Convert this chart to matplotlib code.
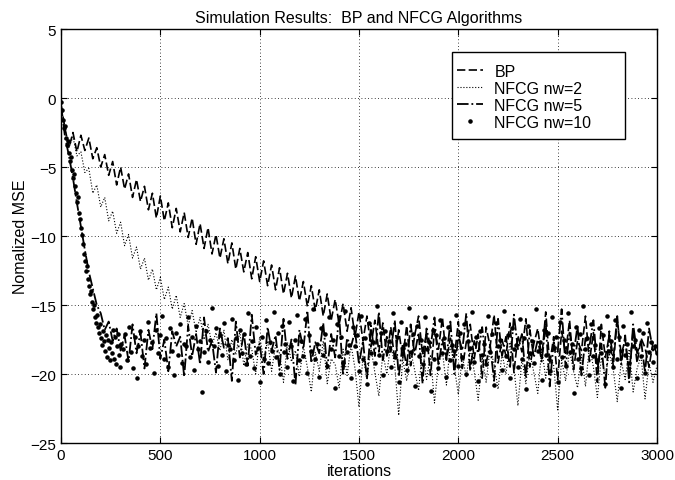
import numpy as np
import matplotlib
matplotlib.use("Agg")
import matplotlib.pyplot as plt
from matplotlib.patches import Rectangle

bp_mse = [-0.5, -2.2, -3.6, -2.5, -3.9, -2.7, -3.8, -2.9, -4.4, -3.6,
          -5.0, -4.1, -5.6, -4.6, -6.3, -5.0, -6.6, -5.5, -7.2, -5.9,
          -7.5, -6.4, -8.1, -6.9, -8.7, -7.1, -8.9, -7.6, -9.4, -8.0,
          -9.7, -8.3, -10.1, -8.7, -10.6, -9.1, -10.9, -9.4, -11.3, -9.9,
          -11.6, -10.2, -12.0, -10.5, -12.4, -10.9, -12.6, -11.2, -13.1, -11.5,
          -13.3, -11.8, -13.6, -12.1, -13.9, -12.3, -14.2, -12.7, -14.5, -12.9,
          -14.7, -13.3, -15.1, -13.6, -15.4, -13.9, -15.8, -14.2, -16.1, -14.6,
          -16.4, -14.9, -16.9, -15.2, -17.3, -15.5, -17.6, -15.8, -18.0, -16.1,
          -18.4, -16.3, -18.7, -16.6, -19.0, -16.8,
          -18.9, -16.5, -19.4, -17.2, -15.8, -18.6, -17.0, -20.1, -16.8, -18.2,
          -15.9, -19.0, -17.4, -18.8, -16.2, -19.6, -17.7, -16.4, -18.9, -17.1,
          -20.3, -16.6, -18.0, -15.7, -19.2, -17.5, -18.7, -16.3, -19.9, -17.2,
          -18.4, -16.0, -19.5, -17.8, -16.7, -18.9, -15.5, -19.3, -17.3, -20.4,
          -16.9, -18.5, -16.1, -19.7, -17.6, -18.3, -15.8, -19.1, -17.0, -20.6,
          -16.4, -18.8, -17.2, -19.4, -16.0, -18.6, -17.5, -20.0, -16.8, -19.2,
          -17.4, -18.1, -19.5, -17.7, -18.6]

nw2_mse = [-0.8, -2.3, -3.6, -2.8, -4.2, -3.9, -5.4, -5.1, -6.9, -6.3,
           -7.9, -7.2, -8.9, -8.2, -9.8, -9.0, -10.7, -9.9, -11.6, -10.8,
           -12.4, -11.6, -13.2, -12.4, -13.9, -13.0, -14.6, -13.7, -15.3, -14.3,
           -15.9, -14.9, -16.5, -15.4, -17.0, -15.9, -17.5, -16.4, -17.9,
           -17.0, -18.3, -16.8, -19.0, -17.5, -18.6, -16.9, -19.4, -17.8, -18.2,
           -20.0, -17.3, -18.9, -17.6, -19.8, -17.9, -18.5, -20.6, -17.7, -19.1,
           -18.3,
           -20.2, -18.0, -19.5, -21.3, -18.4, -19.8, -17.6, -20.7, -18.9, -19.3,
           -21.0, -18.2, -20.1, -17.9, -19.6, -22.4, -18.7, -20.3, -18.1, -19.9,
           -21.6, -18.5, -20.0, -17.8, -19.4, -23.0, -18.9, -20.5, -18.3, -19.7,
           -21.2, -18.0, -20.4, -18.6, -22.1, -19.2, -18.4, -20.8, -17.9, -19.5,
           -21.5, -18.7, -20.2, -18.2, -19.8, -21.9, -18.8, -20.6, -18.1, -19.3,
           -21.1, -18.5, -20.0, -17.7, -19.6, -22.3, -18.9, -20.7, -18.4, -19.9,
           -21.4, -18.2, -20.3, -18.6, -19.4, -22.6, -19.0, -20.5, -18.3, -19.8,
           -21.0, -18.6, -20.9, -18.0, -19.5, -21.7, -18.8, -20.1, -18.5, -19.7,
           -22.0, -19.1, -20.4, -18.2, -21.3, -19.6, -18.7, -21.8, -19.2, -20.6,
           -19.4]

nw5_mse = [-0.5, -2.8, -4.2, -5.8, -7.6, -9.3, -11.0, -12.6, -13.8, -15.0,
           -15.6, -16.8, -16.2, -17.6, -16.7, -18.3,
           -17.2, -19.1, -16.4, -18.5, -17.0, -19.6, -16.8, -18.2, -15.6, -18.9,
           -17.5, -19.8, -16.9, -18.0, -17.3, -20.2, -16.5, -18.7, -17.1, -19.3,
           -15.9, -18.4, -17.6, -19.9, -16.7, -18.1, -17.4, -20.5, -16.2, -18.8,
           -17.0, -19.4, -15.7, -18.6, -17.8, -20.0, -16.6, -18.3, -17.2, -19.7,
           -16.0, -18.9, -17.5, -20.8, -16.8, -18.2, -15.4, -19.2, -17.7, -18.5,
           -16.3, -19.6, -17.1, -18.8, -15.8, -20.1, -17.4, -18.0, -16.9, -19.3,
           -17.6, -20.4, -16.5, -18.7, -15.5, -19.0, -17.3, -18.4, -16.1, -20.2,
           -17.8, -19.5, -16.4, -18.6, -17.0, -20.7, -16.7, -18.1, -15.9, -19.4,
           -17.5, -18.9, -16.2, -20.0, -17.2, -18.3, -15.6, -19.8, -17.6, -18.5,
           -16.6, -19.2, -17.9, -20.5, -16.0, -18.7, -17.3, -19.6, -15.7, -18.2,
           -17.1, -20.3, -16.8, -18.8, -17.5, -19.1, -16.3, -20.9, -17.7, -18.4,
           -15.3, -19.5, -17.0, -18.6, -16.5, -20.1, -17.4, -18.0, -16.1, -19.7,
           -17.8, -21.0, -16.9, -18.9, -15.8, -19.3, -17.2, -20.6, -16.4, -18.5,
           -17.6, -19.9, -16.7, -18.3, -18.0]

# nw=10 dots: every 5 iterations up to 300, then every 10 from 310 on
nw10_early = [-0.3, -0.9, -1.6, -2.2, -2.0, -2.9, -3.4, -3.1, -4.0, -4.6,
              -4.3, -5.2, -5.8, -5.5, -6.4, -6.9, -7.5, -7.2, -8.3, -8.8,
              -9.4, -9.9, -10.6, -11.3, -11.8, -12.5, -12.2, -13.1, -13.6, -14.2,
              -14.0, -14.8, -15.3, -15.0, -15.9, -16.3, -15.7, -16.6, -17.0, -16.4,
              -17.4, -17.9, -16.9, -17.6, -18.3, -17.2, -18.8, -17.5, -18.1, -19.0,
              -17.7, -18.5, -16.8, -18.9, -17.3, -19.3, -18.0, -17.1, -18.6, -19.5,
              -17.8]
nw10_late = [-18.2, -17.1, -19.0, -16.6, -18.4, -19.6, -17.3, -20.3, -18.0, -16.9,
             -18.7, -17.5, -19.3, -16.2, -18.1, -17.7, -19.9, -16.8, -18.5, -17.2,
             -15.8, -18.9, -17.4, -19.5, -16.7, -18.3, -20.1, -17.0, -18.6, -16.4,
             -19.2, -17.8, -18.0, -15.9, -18.8, -17.3, -19.7, -16.5, -18.2, -17.6,
             -21.3, -18.4, -16.9, -19.1, -17.5, -15.2, -18.0, -16.7, -19.4, -17.2,
             -18.6, -16.3, -19.8, -17.9, -18.2, -16.0, -19.0, -17.4, -20.4, -16.8,
             -18.5, -17.1, -19.3, -15.6, -18.7, -17.6, -19.6, -16.6, -18.1, -20.6,
             -17.3, -18.9, -16.1, -19.2, -17.7, -18.3, -15.5, -18.8, -17.0, -20.0,
             -16.5, -18.4, -17.8, -19.5, -16.2, -18.0, -20.5, -17.5, -15.7, -19.0,
             -17.6, -18.7, -16.0, -19.9, -17.2, -18.3, -15.3, -18.9, -17.8, -20.2,
             -16.7, -18.6, -17.1, -19.4, -15.9, -18.2, -17.5, -21.0, -16.4, -18.7,
             -17.3, -19.1, -15.4, -18.4, -17.9, -20.3, -16.6, -18.0, -17.2, -19.8,
             -15.8, -18.9, -17.4, -20.7, -16.3, -18.5, -17.7, -19.2, -15.1, -18.6,
             -17.0, -20.1, -16.9, -18.3, -17.6, -19.5, -15.6, -18.8, -17.3, -20.6,
             -16.2, -18.1, -17.8, -19.7, -15.2, -18.4, -17.1, -20.9, -16.5, -18.7,
             -17.5, -19.3, -15.9, -18.2, -17.7, -21.2, -16.8, -18.9, -17.2, -19.6,
             -16.1, -18.5, -17.4, -20.2, -16.6, -19.0, -17.9, -18.3, -15.7, -19.4,
             -17.0, -18.8, -16.4, -20.0, -17.6, -18.1, -15.5, -19.1, -17.3, -20.5,
             -16.9, -18.6, -17.8, -19.3, -15.8, -18.4, -17.1, -20.8, -16.3, -18.0,
             -17.5, -19.7, -15.4, -18.7, -17.2, -20.3, -16.7, -18.2, -17.9, -19.5,
             -16.0, -18.9, -17.4, -21.1, -16.5, -18.5, -17.6, -19.2, -15.3, -18.3,
             -17.7, -20.4, -16.8, -18.6, -17.0, -19.8, -15.9, -18.1, -17.3, -20.6,
             -16.2, -18.8, -17.5, -19.4, -15.6, -18.4, -17.8, -21.4, -16.6, -18.9,
             -17.1, -19.6, -15.1, -18.2, -17.4, -20.1, -16.4, -18.7, -17.9, -19.0,
             -16.7, -18.5, -17.2, -20.7, -15.8, -18.3, -17.6, -19.5, -16.1, -18.9,
             -17.3, -21.0, -16.5, -18.6, -17.8, -19.2, -15.5, -18.0, -17.5, -20.3,
             -16.8, -18.7, -17.0, -19.9, -16.3, -18.4, -17.7, -19.1, -18.0, -18.5]

plt.rcParams['font.family'] = ['Liberation Sans', 'DejaVu Sans']

fig = plt.figure(figsize=(6.75, 4.81), dpi=100)
ax = fig.add_axes([0.0904, 0.0769, 0.8829, 0.8607])

x_bp = np.linspace(0, 3000, len(bp_mse))
x_nw2 = np.linspace(0, 3000, len(nw2_mse))
x_nw5 = np.linspace(0, 3000, len(nw5_mse))
x_nw10 = np.concatenate([np.linspace(0, 300, len(nw10_early)),
                         np.linspace(310, 3000, len(nw10_late))])
nw10_mse = nw10_early + nw10_late

ax.plot(x_bp, bp_mse, color="black", linestyle=(0, (5, 2)), linewidth=1.2, label="BP")
ax.plot(x_nw2, nw2_mse, color="black", linestyle=":", linewidth=0.8, label="NFCG nw=2")
ax.plot(x_nw5, nw5_mse, color="black", linestyle="-.", linewidth=1.3, label="NFCG nw=5")
ax.plot(x_nw10, nw10_mse, color="black", linestyle="none", marker=".", markersize=4.5,
        label="NFCG nw=10")

ax.set_xlim(0, 3000)
ax.set_ylim(-25, 5)
ax.set_xticks([0, 500, 1000, 1500, 2000, 2500, 3000])
ax.set_yticks([-25, -20, -15, -10, -5, 0, 5])
ax.grid(True, linestyle=(0, (1, 3)), color="black", linewidth=0.6)
ax.tick_params(direction="in", top=True, right=True, labelsize=11, length=4)
for s in ax.spines.values():
    s.set_linewidth(1.0)

ax.set_title("Simulation Results:  BP and NFCG Algorithms", fontsize=11.5, pad=5)
ax.set_xlabel("iterations", fontsize=11.5, labelpad=1)
ax.set_ylabel("Nomalized MSE", fontsize=11.5, labelpad=2)

# MATLAB-style legend: frame drawn separately, entries hug its left edge
box = Rectangle((0.656, 0.734), 0.290, 0.210, transform=ax.transAxes,
                facecolor="white", edgecolor="black", linewidth=1.0, zorder=4.5)
ax.add_patch(box)
leg = ax.legend(loc="upper left", bbox_to_anchor=(0.664, 0.916), fontsize=11.5,
                frameon=False, borderpad=0, borderaxespad=0, handlelength=1.65,
                labelspacing=0.13, handletextpad=0.7)

plt.savefig("out.png", dpi=100)
